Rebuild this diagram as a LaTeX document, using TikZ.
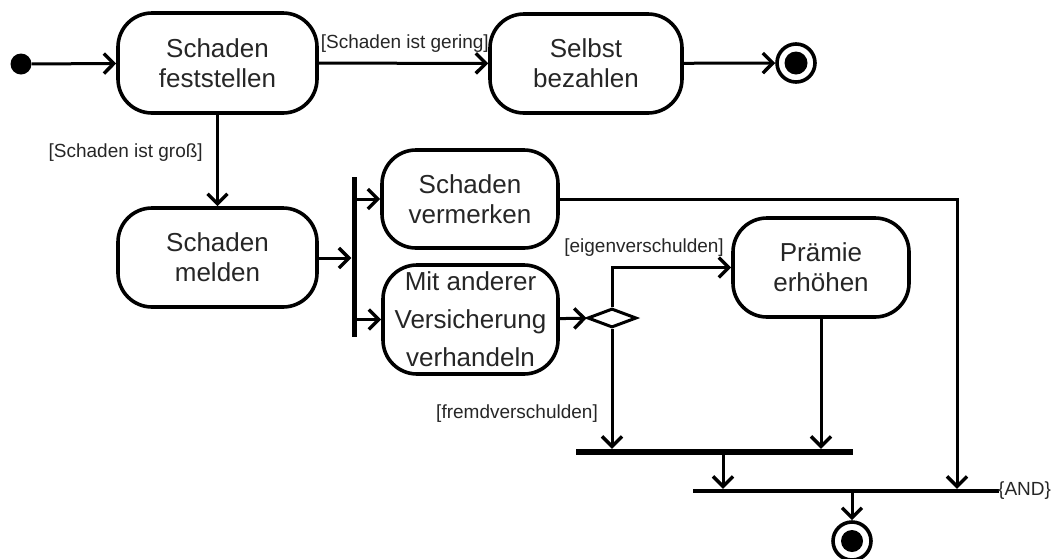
\documentclass[tikz,border=0pt]{standalone}
\usepackage{fontspec}
\setmainfont{Liberation Sans}
\usetikzlibrary{arrows.meta,shapes.geometric}
\begin{document}
\begin{tikzpicture}[x=1pt,y=-1pt,
  act/.style={draw, line width=3.6pt, rounded corners=34pt, inner sep=0pt,
    align=center, text=black!85, font=\fontsize{26}{30}\selectfont},
  lbl/.style={inner sep=0pt, text=black!85, font=\fontsize{19}{22}\selectfont},
  arr/.style={line width=3pt, -{Straight Barb[length=10pt,width=20pt,line width=3.4pt]}},
  bar/.style={fill=black, inner sep=0pt, draw=none},
  finalst/.style={circle, draw, line width=3.6pt, minimum size=38pt, inner sep=0pt},
  initst/.style={circle, fill=black, minimum size=21pt, inner sep=0pt}
]
\useasboundingbox (0,0) rectangle (1052,558);

% nodes
\node[initst] (init) at (21,64) {};
\node[act, minimum width=199pt, minimum height=100pt] (fest) at (217.5,63) {Schaden\\feststellen};
\node[act, minimum width=192pt, minimum height=99pt] (selbst) at (586,63.5) {Selbst\\bezahlen};
\node[finalst] (fin1) at (796,63) {};
\fill (fin1) circle (11.5);
\node[act, minimum width=199pt, minimum height=99pt] (melden) at (217.5,257.5) {Schaden\\melden};
\node[bar, minimum width=5pt, minimum height=160pt] (fork) at (354,257) {};
\node[act, minimum width=176pt, minimum height=98pt] (verm) at (470,199) {Schaden\\vermerken};
\node[act, minimum width=175pt, minimum height=109pt, font=\fontsize{26}{38}\selectfont] (mit) at (470.5,319.5) {Mit anderer\\Versicherung\\verhandeln};
\node[diamond, draw, line width=3pt, minimum width=49pt, minimum height=19pt, inner sep=0pt] (dia) at (612,318) {};
\node[act, minimum width=176pt, minimum height=99pt] (praemie) at (821,267.5) {Prämie\\erhöhen};
\node[bar, minimum width=277pt, minimum height=6pt] (bar1) at (714.5,452) {};
\node[bar, minimum width=306pt, minimum height=4pt] (bar2) at (846,491) {};
\node[finalst] (fin2) at (852,541) {};
\fill (fin2) circle (11);

\coordinate (xj) at (723,0);
\coordinate (xv) at (957,0);

% connectors
\draw[arr] (init) -- (fest);
\draw[arr] (fest) -- (selbst);
\draw[arr] (selbst) -- (fin1);
\draw[arr] (fest) -- (melden);
\draw[arr] (melden.east |- 0,258) -- (fork.west |- 0,258);
\draw[arr] (fork.east |- verm) -- (verm);
\draw[arr] (fork.east |- mit) -- (mit);
\draw[arr] (mit) -- (dia);
\draw[arr] (dia.north) |- (praemie.west);
\draw[arr] (dia.south) -- (dia.south |- bar1.north);
\draw[arr] (praemie) -- (praemie |- bar1.north);
\draw[arr] (verm.east) -| (bar2.north -| xv);
\draw[arr] (bar1.south -| xj) -- (bar2.north -| xj);
\draw[arr] (fin2 |- bar2.south) -- (fin2);

% labels
\node[lbl, anchor=east] (lg) at (489,44) {[Schaden ist gering]};
\node[lbl, anchor=east] (lgr) at (203,153) {[Schaden ist groß]};
\node[lbl, anchor=east] (le) at (724,248) {[eigenverschulden]};
\node[lbl, anchor=east] (lf) at (598,414) {[fremdverschulden]};
\node[lbl, anchor=west] (land) at (998,491) {\{AND\}};
\end{tikzpicture}
\end{document}
